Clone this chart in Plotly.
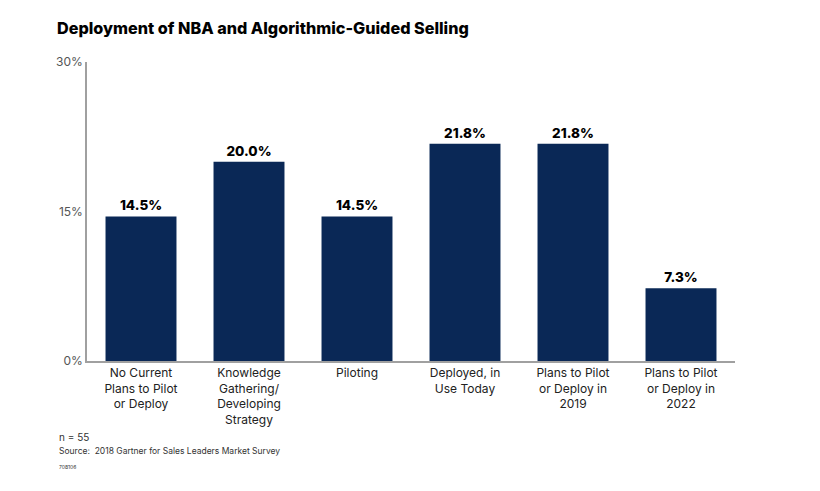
import plotly.graph_objects as go

categories = [
    "No Current<br>Plans to Pilot<br>or Deploy",
    "Knowledge<br>Gathering/<br>Developing<br>Strategy",
    "Piloting",
    "Deployed, in<br>Use Today",
    "Plans to Pilot<br>or Deploy in<br>2019",
    "Plans to Pilot<br>or Deploy in<br>2022",
]
values = [14.5, 20.0, 14.5, 21.8, 21.8, 7.3]
tick_vals = [0, 15, 30]
tick_text = ["0%", "15%", "30%"]

fig = go.Figure(go.Bar(
    x=categories,
    y=values,
    marker=dict(color="#0a2856", line=dict(width=0)),
    text=[f"{v:.1f}%" for v in values],
    textposition="outside",
    textfont=dict(family="Inter, Roboto, sans-serif", size=13.5, color="#000000", weight=800),
    cliponaxis=False,
))

fig.update_layout(
    width=820, height=491,
    margin=dict(l=79, r=93, t=54, b=138),
    paper_bgcolor="white", plot_bgcolor="white",
    bargap=0.343,
    showlegend=False,
    font=dict(family="Inter, Roboto, sans-serif", color="#222222"),
    title=dict(
        text="Deployment of NBA and Algorithmic-Guided Selling",
        x=49 / 820, xanchor="left", y=1 - 20 / 491, yanchor="middle",
        font=dict(size=16.2, color="#000000", family="Inter, Roboto, sans-serif", weight=800),
    ),
)

fig.update_xaxes(
    showline=True, linecolor="#a0a0a0", linewidth=1.5,
    ticks="", tickfont=dict(size=12, color="#222222"),
    range=[-0.5, 5.5],
)
fig.update_yaxes(
    range=[0, 30], tickvals=tick_vals, ticktext=tick_text,
    showline=True, linecolor="#a0a0a0", linewidth=1.5,
    showgrid=False, zeroline=False,
    tickfont=dict(size=12, color="#555555"), ticks="",
)

fig.add_annotation(text="n = 55", xref="paper", yref="paper",
                   x=-30 / 648, y=-(437 - 361) / 299, xanchor="left", yanchor="middle",
                   showarrow=False, font=dict(size=10, color="#333333"))
fig.add_annotation(text="Source:  2018 Gartner for Sales Leaders Market Survey", xref="paper", yref="paper",
                   x=-30 / 648, y=-(451 - 361) / 299, xanchor="left", yanchor="middle",
                   showarrow=False, font=dict(size=8.5, color="#333333"))
fig.add_annotation(text="708106", xref="paper", yref="paper",
                   x=-30 / 648, y=-(467 - 361) / 299, xanchor="left", yanchor="middle",
                   showarrow=False, font=dict(size=5, color="#333333"))

fig.write_html("out.html")
